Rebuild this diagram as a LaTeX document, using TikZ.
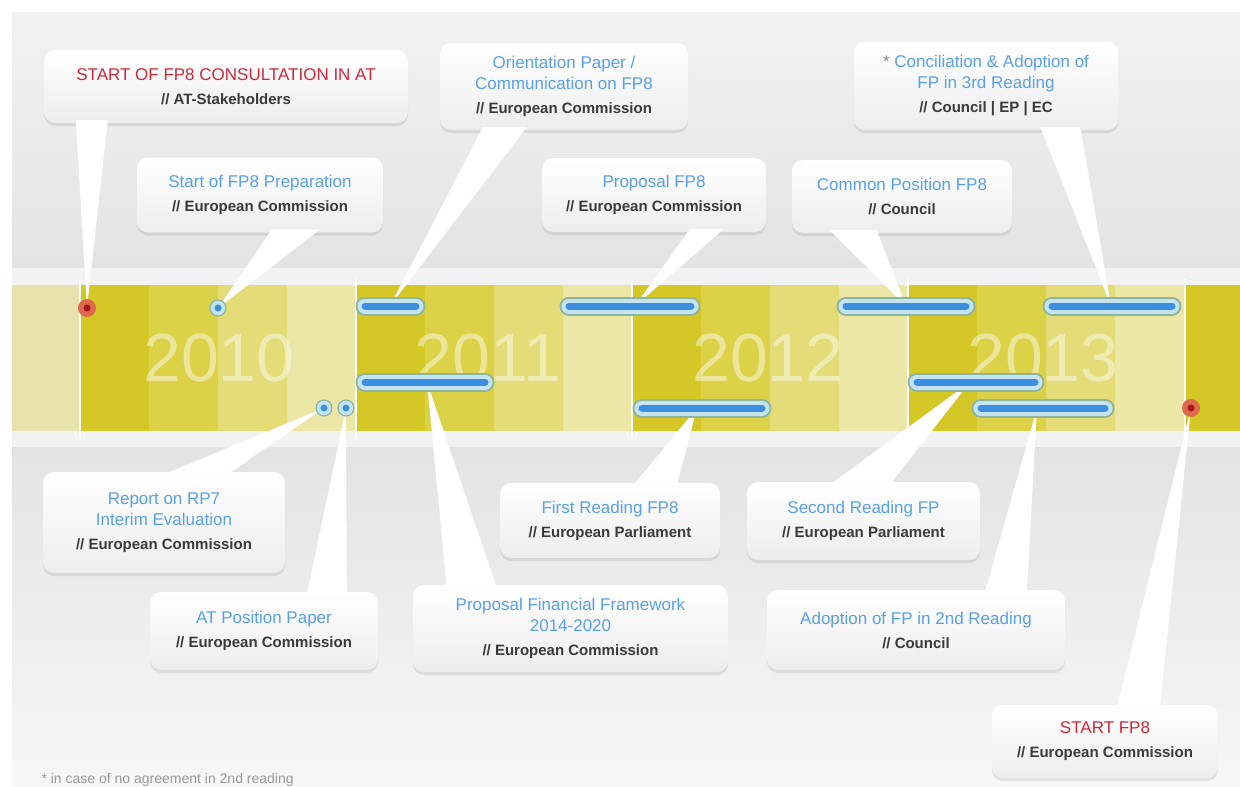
\documentclass[tikz,border=0pt]{standalone}
\usepackage{fontspec}
\setmainfont{Liberation Sans}
\usetikzlibrary{calc,shadows}

\definecolor{ttlblue}{HTML}{5AA0E8}
\definecolor{ttlred}{HTML}{CC2A3A}
\definecolor{whogray}{HTML}{3A3A3A}
\definecolor{barblue}{HTML}{3C8EE0}
\definecolor{haloin}{HTML}{C4E4F2}
\definecolor{halorim}{HTML}{8FB59E}
\definecolor{redhalo}{HTML}{DE6A4C}
\definecolor{redcore}{HTML}{A8141C}
\definecolor{yrA}{HTML}{D5C826}
\definecolor{yrB}{HTML}{DCD247}
\definecolor{yrC}{HTML}{E4DC76}
\definecolor{yrD}{HTML}{EDE7A7}
\definecolor{yrPale}{HTML}{E8E2AC}

\newcommand{\ttl}[1]{\textcolor{ttlblue}{#1}}
\newcommand{\ttlr}[1]{\textcolor{ttlred}{#1}}
\newcommand{\who}[1]{\textcolor{whogray}{\fontsize{15}{18}\selectfont\bfseries #1}}

\begin{document}
\begin{tikzpicture}[x=1pt,y=-1pt,
    box/.style={rectangle, rounded corners=11pt, top color=white, bottom color=black!7,
      drop shadow={opacity=.18, shadow xshift=0pt, shadow yshift=-3pt},
      align=center, inner sep=0pt, font=\fontsize{17}{21}\selectfont},
    bar/.style={line cap=round, line width=7pt, draw=barblue,
      preaction={draw=halorim, line width=19pt, line cap=round},
      preaction={draw=haloin, line width=15pt, line cap=round}},
    year/.style={text=white, text opacity=.45, font=\fontsize{68}{68}\selectfont}]
    \useasboundingbox (0,0) rectangle (1240,787);

    % background
    \fill[white] (0,0) rectangle (1240,787);
    \shade[top color=black!5, bottom color=black!11] (12,12) rectangle (1240,268);
    \fill[black!5] (12,268) rectangle (1240,285);
    \fill[black!5] (12,431) rectangle (1240,447);
    \shade[top color=black!11, bottom color=black!3] (12,447) rectangle (1240,787);

    % year band
    \fill[yrPale] (12,285) rectangle (80,431);
    \fill[yrA] (1185,285) rectangle (1240,431);
    \foreach \x in {80,356,632,908} {
        \fill[yrA] (\x,285) rectangle (\x+69,431);
        \fill[yrB] (\x+69,285) rectangle (\x+138,431);
        \fill[yrC] (\x+138,285) rectangle (\x+207,431);
        \fill[yrD] (\x+207,285) rectangle (\x+277,431);
    }
    \foreach \x in {80,356,632,908,1185}
        \draw[white, line width=2.5] (\x,279) -- (\x,437);

    \node[year] (y2010) at (219,358) {2010};
    \node[year] (y2011) at (488,358) {2011};
    \node[year] (y2012) at (768,358) {2012};
    \node[year] (y2013) at (1043,358) {2013};

    % callouts above
    \node[box, minimum width=364pt, minimum height=73pt] (cons) at (226,86.5)
        {\ttlr{START OF FP8 CONSULTATION IN AT}\\[3pt]\who{// AT-Stakeholders}};
    \node[box, minimum width=246pt, minimum height=75pt] (prep) at (260,195)
        {\ttl{Start of FP8 Preparation}\\[3pt]\who{// European Commission}};
    \node[box, minimum width=248pt, minimum height=87pt] (orient) at (564,86.5)
        {\ttl{Orientation Paper /}\\\ttl{Communication on FP8}\\[3pt]\who{// European Commission}};
    \node[box, minimum width=224pt, minimum height=74pt] (propfp) at (654,195)
        {\ttl{Proposal FP8}\\[3pt]\who{// European Commission}};
    \node[box, minimum width=220pt, minimum height=73pt] (compos) at (902,196.5)
        {\ttl{Common Position FP8}\\[3pt]\who{// Council}};
    \node[box, minimum width=265pt, minimum height=88pt] (concil) at (986,86)
        {\textcolor{black!45}{*} \ttl{Conciliation \& Adoption of}\\\ttl{FP in 3rd Reading}\\[3pt]\who{// Council | EP | EC}};

    % callouts below
    \node[box, minimum width=242pt, minimum height=101pt] (report) at (164,522.5)
        {\ttl{Report on RP7}\\\ttl{Interim Evaluation}\\[3pt]\who{// European Commission}};
    \node[box, minimum width=228pt, minimum height=78pt] (atpos) at (264,631)
        {\ttl{AT Position Paper}\\[3pt]\who{// European Commission}};
    \node[box, minimum width=315pt, minimum height=87pt] (finfw) at (570.5,628.5)
        {\ttl{Proposal Financial Framework}\\\ttl{2014-2020}\\[3pt]\who{// European Commission}};
    \node[box, minimum width=220pt, minimum height=75pt] (firstrd) at (610,520.5)
        {\ttl{First Reading FP8}\\[3pt]\who{// European Parliament}};
    \node[box, minimum width=233pt, minimum height=78pt] (secondrd) at (863.5,521)
        {\ttl{Second Reading FP}\\[3pt]\who{// European Parliament}};
    \node[box, minimum width=298pt, minimum height=80pt] (adopt) at (916,630)
        {\ttl{Adoption of FP in 2nd Reading}\\[3pt]\who{// Council}};
    \node[box, minimum width=226pt, minimum height=73pt] (startfp) at (1105,741.5)
        {\ttlr{START FP8}\\[3pt]\who{// European Commission}};

    % event points
    \coordinate (tCons) at (87,308);
    \coordinate (tPrep) at (218,308);
    \coordinate (tOrient) at (390,306);
    \coordinate (tProp) at (635,306);
    \coordinate (tComPos) at (906,306);
    \coordinate (tConcil) at (1111,306);
    \coordinate (tReport) at (324,408);
    \coordinate (tATPos) at (346,408);
    \coordinate (tFinFw) at (427,382);
    \coordinate (tFirst) at (697,408);
    \coordinate (tSecond) at (970,382);
    \coordinate (tAdopt) at (1037,408);
    \coordinate (tStart) at (1191,408);

    % pointers
    \foreach \n/\s/\a/\b/\d/\t in {cons/south west/32/64/-3/tCons,
        prep/south west/135/183/-3/tPrep, orient/south west/43/87/-3/tOrient,
        propfp/south west/148/182/-3/tProp, compos/south west/38/85/-3/tComPos,
        concil/south west/187/227/-3/tConcil, report/north west/120/184/3/tReport,
        atpos/north west/157/197/3/tATPos, finfw/north west/34/84/3/tFinFw,
        firstrd/north west/133/177/3/tFirst, secondrd/north west/83/143/3/tSecond,
        adopt/north west/218/260/3/tAdopt, startfp/north west/125/168/3/tStart}
        \fill[white] ($(\n.\s)+(\a,\d)$) -- (\t) -- ($(\n.\s)+(\b,\d)$) -- cycle;

    % bars
    \draw[bar] (365,306) -- (416,306);
    \draw[bar] (569,306) -- (691,306);
    \draw[bar] (846,306) -- (966,306);
    \draw[bar] (1052,306) -- (1172,306);
    \draw[bar] (365,382) -- (485,382);
    \draw[bar] (917,382) -- (1035,382);
    \draw[bar] (642,408) -- (762,408);
    \draw[bar] (981,408) -- (1105,408);

    % dots
    \filldraw[fill=haloin, draw=halorim, line width=1.2] (tPrep) circle (8);
    \fill[barblue] (tPrep) circle (3.5);
    \filldraw[fill=haloin, draw=halorim, line width=1.2] (tReport) circle (8);
    \fill[barblue] (tReport) circle (3.5);
    \filldraw[fill=haloin, draw=halorim, line width=1.2] (tATPos) circle (8);
    \fill[barblue] (tATPos) circle (3.5);
    \fill[redhalo] (tCons) circle (9);
    \fill[redcore] (tCons) circle (3.5);
    \fill[redhalo] (tStart) circle (9);
    \fill[redcore] (tStart) circle (3.5);

    \node[anchor=west, text=black!40, font=\fontsize{14}{14}\selectfont] (note) at (38,780)
        {* in case of no agreement in 2nd reading};
\end{tikzpicture}
\end{document}
